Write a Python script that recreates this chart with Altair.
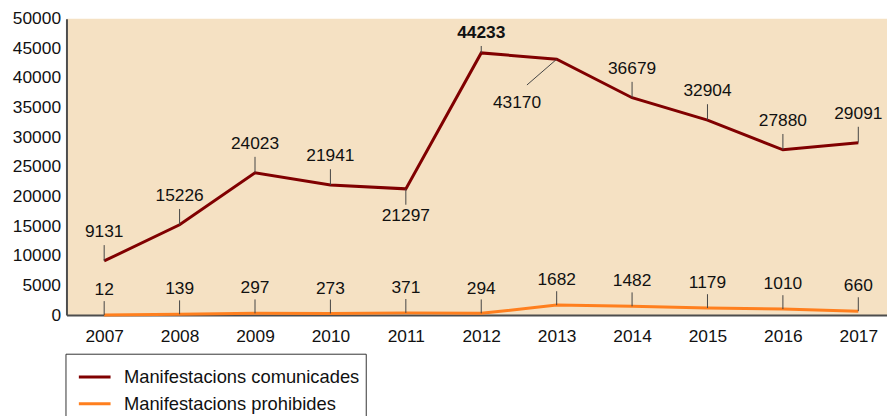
import altair as alt
import pandas as pd

years = list(range(2007, 2018))
comunicades = [9131, 15226, 24023, 21941, 21297, 44233, 43170, 36679, 32904, 27880, 29091]
prohibides = [12, 139, 297, 273, 371, 294, 1682, 1482, 1179, 1010, 660]
series_names = ["Manifestacions comunicades", "Manifestacions prohibides"]
y_ticks = list(range(0, 50001, 5000))

DARK = "#800000"
ORANGE = "#ff7f1e"
FONT = "Liberation Sans"

rows = []
for y, v in zip(years, comunicades):
    rows.append({"year": y, "value": v, "series": series_names[0]})
for y, v in zip(years, prohibides):
    rows.append({"year": y, "value": v, "series": series_names[1]})
df = pd.DataFrame(rows)

com = df[df.series == series_names[0]]
pro = df[df.series == series_names[1]]
com_above = com[~com.year.isin([2011, 2012, 2013])]
com_bold = com[com.year == 2012]
com_below = com[com.year == 2011]
com_diag = com[com.year == 2013]

x = alt.X("year:Q", scale=alt.Scale(domain=[2006.5, 2006.5 + 828 / 76.1], nice=False, zero=False),
          axis=alt.Axis(values=years, format="d", title=None, ticks=False, grid=False,
                        labelFontSize=17.5, labelFont=FONT, labelColor="#111", labelPadding=13,
                        domainColor="#4d4d4d", domainWidth=2, labelFlush=False, labelOverlap=False))
y = alt.Y("value:Q", scale=alt.Scale(domain=[0, 50000], nice=False),
          axis=alt.Axis(values=y_ticks, format="d", title=None, ticks=False, grid=False,
                        labelFontSize=17.5, labelFont=FONT, labelColor="#111", labelPadding=6,
                        domainColor="#4d4d4d", domainWidth=2, labelOverlap=False))

base = alt.Chart(df)

lines = base.mark_line(strokeWidth=3).encode(
    x=x, y=y,
    color=alt.Color("series:N", scale=alt.Scale(domain=series_names, range=[DARK, ORANGE]),
                    legend=alt.Legend(title=None, orient="none", legendX=-1, legendY=338,
                                      strokeColor="#333", fillColor="white", padding=6,
                                      symbolOffset=6,
                                      symbolType="stroke", symbolStrokeWidth=3, symbolSize=1024,
                                      labelFontSize=18.5, labelFont=FONT, labelColor="#111",
                                      labelOffset=12, rowPadding=-6, labelLimit=400)),
)

def leader(data, dy, dx=0):
    kw = {"y2Offset": dy}
    if dx:
        kw["x2Offset"] = dx
    return alt.Chart(data).mark_rule(color="#444", strokeWidth=1, **kw).encode(
        x=x, y=y, x2="year:Q", y2="value:Q")

def label(data, dy, dx=0, bold=False):
    return alt.Chart(data).mark_text(fontSize=17.5, font=FONT, color="#111", baseline="middle",
                                     dy=dy, dx=dx, fontWeight="bold" if bold else "normal").encode(
        x=x, y=y, text=alt.Text("value:Q", format="d"))

layers = [
    leader(com_above, -16), label(com_above, -29),
    leader(com_bold, -7), label(com_bold, -20, bold=True),
    leader(com_below, 16), label(com_below, 27),
    leader(com_diag, 26, -30), label(com_diag, 44, -40),
    leader(pro, -14), label(pro, -25),
]

chart = alt.layer(lines, *layers).properties(
    width=828, height=299,
    autosize=alt.AutoSizeParams(type="none"),
    padding={"left": 59, "top": 9, "right": 0, "bottom": 100},
).configure_view(fill="#f5e1c3", stroke=None)

chart.save("out.html", embed_options={"renderer": "svg", "actions": False})
